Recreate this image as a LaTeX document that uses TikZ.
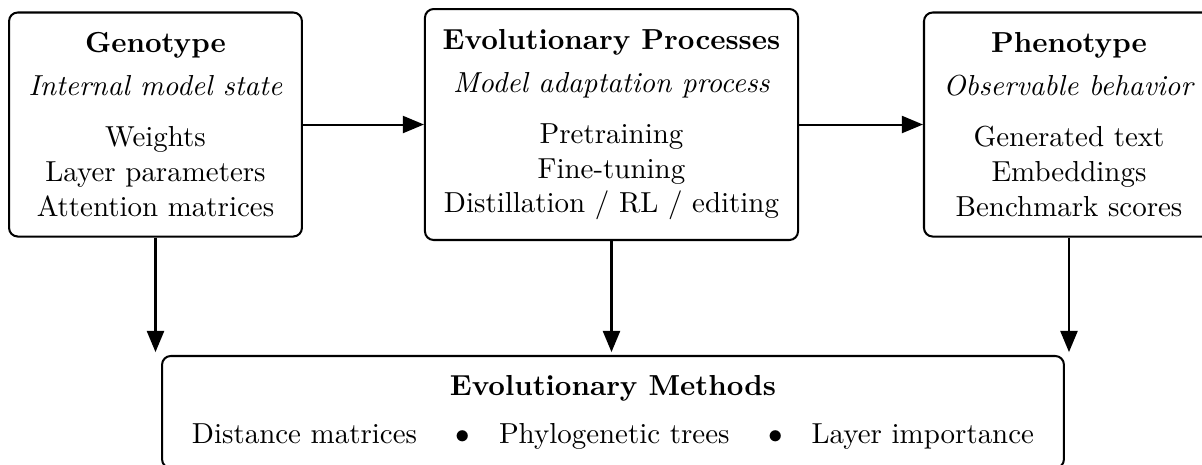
\documentclass[tikz,border=0pt]{standalone}
\usetikzlibrary{arrows.meta}
\begin{document}
\begin{tikzpicture}[x=0.3455pt,y=-0.3455pt,
  box/.style={draw, line width=0.7pt, rounded corners=3pt, align=center, inner sep=0pt},
  flow/.style={line width=0.7pt, -{Triangle[length=7.3pt,width=5.9pt]}}]
\clip (0,0) rectangle (1202,464);

% top row: genotype -> processes -> phenotype
\node[box, minimum width=101.2pt, minimum height=77.4pt] (genotype) at (155.5,124.5)
  {\textbf{Genotype}\\[3pt]\textit{Internal model state}\\[5.6pt]Weights\\Layer parameters\\Attention matrices};
\node[box, minimum width=128.9pt, minimum height=79.8pt] (processes) at (611.5,124.5)
  {\textbf{Evolutionary Processes}\\[3pt]\textit{Model adaptation process}\\[5.6pt]Pretraining\\Fine-tuning\\Distillation / RL / editing};
\node[box, minimum width=100.2pt, minimum height=77.4pt] (phenotype) at (1069,124.5)
  {\textbf{Phenotype}\\[3pt]\textit{Observable behavior}\\[5.6pt]Generated text\\Embeddings\\Benchmark scores};

% bottom box: analysis methods
\node[box, minimum width=311.6pt, minimum height=38.7pt] (methods) at (613,412)
  {\textbf{Evolutionary Methods}\\[4.6pt]
   Distance matrices \quad$\bullet$\quad Phylogenetic trees \quad$\bullet$\quad Layer importance};

% connectors
\draw[flow] (genotype.east) -- (genotype.east -| processes.west);
\draw[flow] (processes.east) -- (processes.east -| phenotype.west);
\draw[flow, shorten >=1pt] (genotype.south) -- (genotype.south |- methods.north);
\draw[flow, shorten >=1pt] (processes.south) -- (processes.south |- methods.north);
\draw[flow, shorten >=1pt] (phenotype.south) -- (phenotype.south |- methods.north);
\end{tikzpicture}
\end{document}
